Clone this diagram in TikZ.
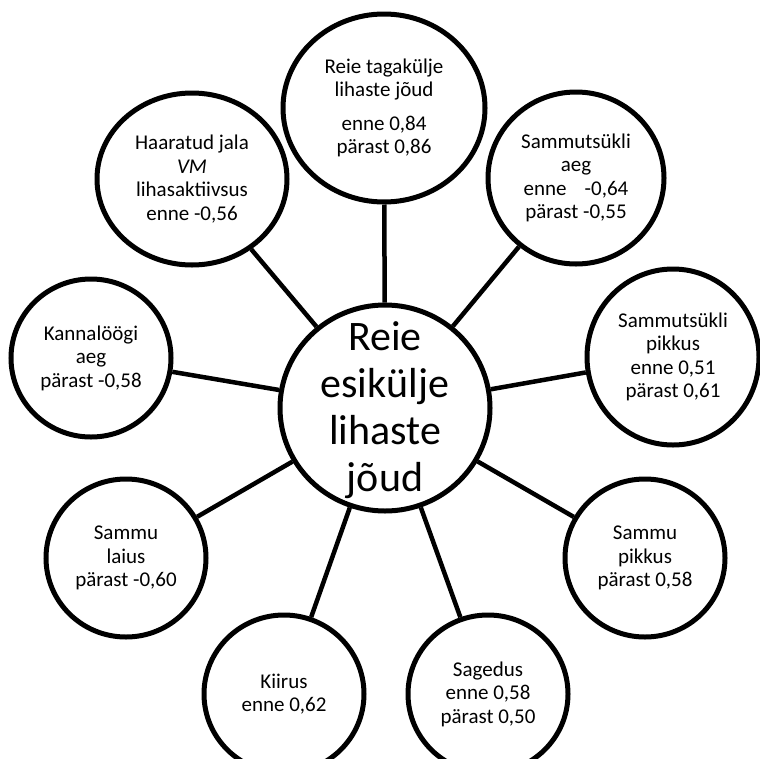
\documentclass[tikz,border=0pt]{standalone}
\usepackage{fontspec}
\setmainfont{Carlito}
\usetikzlibrary{shapes.geometric}
\begin{document}
\begin{tikzpicture}[x=1pt,y=-1pt,
  bub/.style={draw, ellipse, line width=5pt, inner sep=0pt, align=center,
              font=\fontsize{21}{23.5}\selectfont},
  small/.style={minimum width=160pt, minimum height=158pt},
  bigtext/.style={align=center, inner sep=0pt, font=\fontsize{42}{47}\selectfont},
  link/.style={line width=4.5pt}]
\useasboundingbox (0,0) rectangle (760,758);
\clip (0,0) rectangle (760,758);
\node[bub, minimum width=210pt, minimum height=206pt,
      label={[bigtext,yshift=-2pt]center:Reie\\esikülje\\lihaste\\jõud}] (c) at (385,408) {};
\node[bub, minimum width=202pt, minimum height=188pt] (t) at (384,108)
  {Reie tagakülje\\lihaste jõud\\[10pt]enne 0,84\\pärast 0,86};
\node[bub, minimum width=190pt, minimum height=172pt] (hj) at (192,179)
  {Haaratud jala\\\textit{VM}\\lihasaktiivsus\\enne -0,56};
\node[bub, minimum width=176pt, minimum height=172pt] (sa) at (576,178)
  {Sammutsükli\\aeg\\enne\hspace{18pt}-0,64\\pärast -0,55};
\node[bub, minimum width=172pt, minimum height=176pt] (sp) at (673,357)
  {Sammutsükli\\pikkus\\enne 0,51\\pärast 0,61};
\node[bub, small] (ka) at (91,358) {Kannalöögi\\aeg\\pärast -0,58};
\node[bub, small] (sl) at (126,558) {Sammu\\laius\\pärast -0,60};
\node[bub, small] (ki) at (284,694) {Kiirus\\enne 0,62};
\node[bub, small] (sg) at (488,694) {Sagedus\\enne 0,58\\pärast 0,50};
\node[bub, small] (spk) at (645,558) {Sammu\\pikkus\\pärast 0,58};
\draw[link] (c) -- (t);
\draw[link] (c) -- (hj);
\draw[link] (c) -- (sa);
\draw[link] (c) -- (sp);
\draw[link] (c) -- (ka);
\draw[link] (c) -- (sl);
\draw[link] (c) -- (ki);
\draw[link] (c) -- (sg);
\draw[link] (c) -- (spk);
\end{tikzpicture}
\end{document}
